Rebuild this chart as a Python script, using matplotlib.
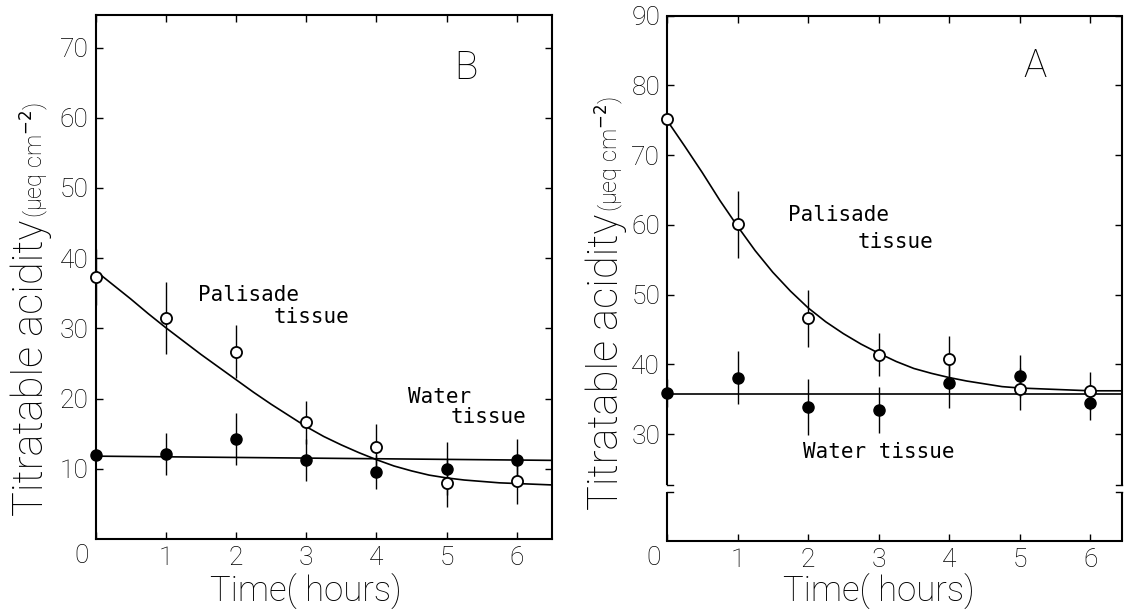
import matplotlib
matplotlib.use("Agg")
import matplotlib.pyplot as plt
from matplotlib.transforms import blended_transform_factory

# ---------------- data ----------------
hours = [0, 1, 2, 3, 4, 5, 6]
x_tick_labels = ["1", "2", "3", "4", "5", "6"]

# Panel B
b_yticks = [10, 20, 30, 40, 50, 60, 70]
b_palisade = [37.3, 31.5, 26.7, 16.6, 13.1, 8.0, 8.3]
b_palisade_err = [4.0, 5.1, 3.8, 3.1, 3.3, 3.4, 3.3]
b_water = [12.0, 12.1, 14.2, 11.2, 9.5, 10.0, 11.2]
b_water_err = [0.0, 3.0, 3.7, 3.0, 2.4, 3.8, 3.1]
b_fit_t = [0, 0.25, 0.5, 0.75, 1, 1.25, 1.5, 1.75, 2, 2.25, 2.5, 2.75, 3, 3.25,
           3.5, 3.75, 4, 4.25, 4.5, 4.75, 5, 5.25, 5.5, 5.75, 6, 6.25, 6.5]
b_palisade_fit = [38.2, 36.2, 34.2, 32.1, 30.1, 28.2, 26.3, 24.5, 22.7, 20.9,
                  19.2, 17.6, 16.0, 14.6, 13.4, 12.3, 11.3, 10.4, 9.7, 9.1,
                  8.7, 8.4, 8.2, 8.0, 7.9, 7.8, 7.7]
b_water_fit_t = [0, 6.5]
b_water_fit = [11.8, 11.2]

# Panel A
a_yticks = [30, 40, 50, 60, 70, 80, 90]
a_palisade = [75.2, 60.1, 46.6, 41.4, 40.8, 36.5, 36.2]
a_palisade_err = [0.0, 4.8, 4.1, 3.1, 3.3, 3.0, 2.7]
a_water = [35.9, 38.1, 33.9, 33.4, 37.3, 38.3, 34.5]
a_water_err = [2.0, 3.8, 4.0, 3.3, 3.6, 3.0, 2.5]
a_fit_t = [0, 0.25, 0.5, 0.75, 1, 1.25, 1.5, 1.75, 2, 2.25, 2.5, 2.75, 3, 3.25,
           3.5, 3.75, 4, 4.25, 4.5, 4.75, 5, 5.25, 5.5, 5.75, 6, 6.25, 6.45]
a_palisade_fit = [75.0, 71.3, 67.5, 63.5, 59.8, 56.3, 53.2, 50.5, 48.1, 46.1,
                  44.4, 42.9, 41.6, 40.4, 39.4, 38.7, 38.1, 37.6, 37.2, 36.8,
                  36.6, 36.5, 36.4, 36.3, 36.2, 36.2, 36.2]
a_water_fit_t = [0, 6.45]
a_water_fit = [35.8, 35.8]

# ---------------- figure ----------------
W, H = 1124, 610
fig = plt.figure(figsize=(W / 100, H / 100), dpi=100)
fig.patch.set_facecolor("white")


def fx(px):
    return px / W


def fy(py):
    return 1 - py / H


FONT = ["Roboto", "DejaVu Sans"]
MONO = ["DejaVu Sans Mono"]
TICK_FS = 19

axB = fig.add_axes([fx(95.5), fy(539), fx(552) - fx(95.5), fy(14.5) - fy(539)])
axA = fig.add_axes([fx(667), fy(540.7), fx(1122) - fx(667), fy(15.7) - fy(540.7)])


def style(ax, yticks):
    ax.set_xticks(hours)
    ax.set_xticklabels([""] + x_tick_labels)
    ax.set_yticks(yticks)
    ax.set_yticklabels([str(v) for v in yticks])
    ax.tick_params(direction="in", top=True, right=True, length=5, width=1.0,
                   labelsize=TICK_FS, pad=5, colors="black")
    for lab in ax.get_xticklabels() + ax.get_yticklabels():
        lab.set_fontfamily(FONT)
        lab.set_fontweight("light")
    for s in ax.spines.values():
        s.set_linewidth(1.5)
    ax.annotate("0", xy=(0, 0), xycoords=("data", "axes fraction"),
                xytext=(-10, -3.6), textcoords="offset points",
                ha="center", va="top", fontsize=TICK_FS,
                family=FONT, fontweight="light", annotation_clip=False)


def draw(ax, t_fit, pal_fit, tw_fit, w_fit, pal, pal_err, wat, wat_err):
    ax.plot(t_fit, pal_fit, color="black", lw=1.2, zorder=2)
    ax.plot(tw_fit, w_fit, color="black", lw=1.2, zorder=2)
    ax.errorbar(hours, pal, yerr=pal_err, fmt="none", ecolor="black",
                elinewidth=1.0, capsize=0, zorder=3)
    ax.errorbar(hours, wat, yerr=wat_err, fmt="none", ecolor="black",
                elinewidth=1.0, capsize=0, zorder=3)
    ax.plot(hours, wat, "o", mfc="black", mec="black", ms=8, zorder=4,
            clip_on=False)
    ax.plot(hours, pal, "o", mfc="white", mec="black", mew=1.3, ms=8,
            zorder=5, clip_on=False)


# Panel B
draw(axB, b_fit_t, b_palisade_fit, b_water_fit_t, b_water_fit,
     b_palisade, b_palisade_err, b_water, b_water_err)
axB.set_xlim(0, 6.5)
axB.set_ylim(0, 74.7)
style(axB, b_yticks)
axB.text(1.46, 34.7, "Palisade", family=MONO, fontsize=15, va="center", ha="left")
axB.text(2.53, 31.6, "tissue", family=MONO, fontsize=15, va="center", ha="left")
axB.text(4.45, 20.2, "Water", family=MONO, fontsize=15, va="center", ha="left")
axB.text(5.05, 17.4, "tissue", family=MONO, fontsize=15, va="center", ha="left")
axB.text(5.27, 67.0, "B", family=FONT, fontweight="light", fontsize=28,
         ha="center", va="center")

# Panel A
draw(axA, a_fit_t, a_palisade_fit, a_water_fit_t, a_water_fit,
     a_palisade, a_palisade_err, a_water, a_water_err)
axA.set_xlim(0, 6.45)
axA.set_ylim(14.7, 90)
style(axA, a_yticks)
axA.text(1.72, 61.4, "Palisade", family=MONO, fontsize=15, va="center", ha="left")
axA.text(2.70, 57.5, "tissue", family=MONO, fontsize=15, va="center", ha="left")
axA.text(1.93, 27.4, "Water tissue", family=MONO, fontsize=15, va="center", ha="left")
axA.text(5.22, 82.7, "A", family=FONT, fontweight="light", fontsize=28,
         ha="center", va="center")

# broken y axis on panel A
axA.spines["left"].set_visible(False)
axA.spines["right"].set_visible(False)
ytr = axA.get_yaxis_transform()
brk_lo, brk_hi = 21.7, 22.7
for xs, mark in ((0, 0.014), (1, 0.986)):
    axA.plot([xs, xs], [14.7, brk_lo], color="black", lw=1.5, transform=ytr,
             clip_on=False, solid_capstyle="butt")
    axA.plot([xs, xs], [brk_hi, 90], color="black", lw=1.5, transform=ytr,
             clip_on=False, solid_capstyle="butt")
    axA.plot([xs, mark], [brk_lo, brk_lo], color="black", lw=1.0, transform=ytr,
             clip_on=False)
    axA.plot([xs, mark], [brk_hi, brk_hi], color="black", lw=1.0, transform=ytr,
             clip_on=False)

# axis labels
for ax in (axB, axA):
    tr = blended_transform_factory(ax.transData, fig.transFigure)
    ax.text(3, fy(592), "Time( hours)", transform=tr, ha="center", va="center",
            fontsize=25, family=FONT, fontweight="light")

big_labels = []
for base_x, start_y in ((43, 516), (618, 510)):
    t = fig.text(fx(base_x), fy(start_y), "Titratable acidity", rotation=90,
                 rotation_mode="anchor", ha="left", va="baseline", fontsize=30,
                 family=FONT, fontweight="light")
    big_labels.append((base_x, t))

fig.canvas.draw()
for base_x, t in big_labels:
    bb = t.get_window_extent()
    fig.text(fx(base_x), (bb.y1 + 2) / H, "(μeq cm$^{-2}$)", rotation=90,
             rotation_mode="anchor", ha="left", va="baseline", fontsize=17,
             family=FONT, fontweight="light")

fig.savefig("out.png", dpi=100, facecolor="white")
